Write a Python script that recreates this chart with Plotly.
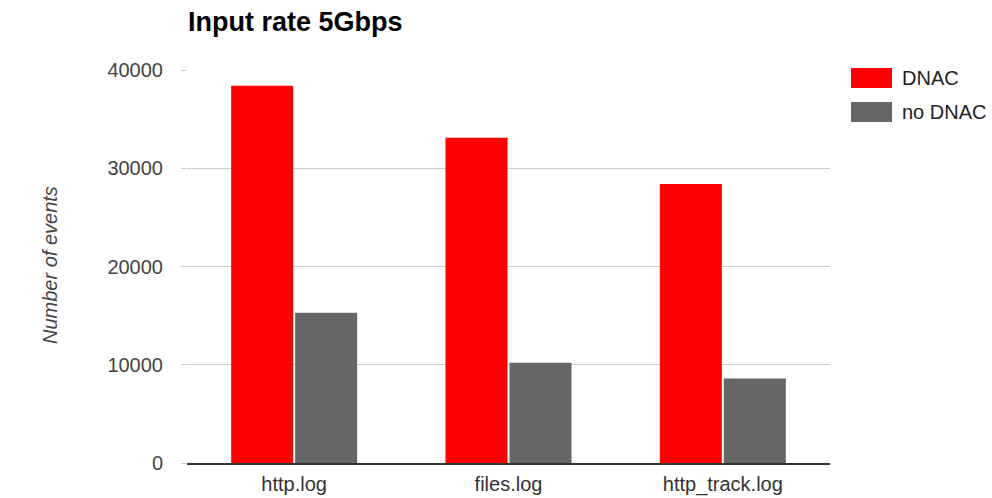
import plotly.graph_objects as go

# Data
categories = ["http.log", "files.log", "http_track.log"]
series_names = ["DNAC", "no DNAC"]
dnac_values = [38400, 33100, 28400]
no_dnac_values = [15300, 10200, 8600]
series_colors = ["#ff0000", "#666666"]
y_ticks = [0, 10000, 20000, 30000, 40000]

W, H = 992, 498
L, R, T, B = 187, 162, 70, 35
FONT = "Liberation Sans, Arial, sans-serif"

fig = go.Figure()
for name, vals, col in zip(series_names, [dnac_values, no_dnac_values], series_colors):
    fig.add_trace(go.Bar(x=categories, y=vals, name=name, marker_color=col,
                         marker_line_width=0, showlegend=False))

fig.update_layout(
    width=W, height=H,
    margin=dict(l=L, r=R, t=T, b=B, pad=0, autoexpand=False),
    paper_bgcolor="white", plot_bgcolor="white",
    barmode="group", bargap=0.403, bargroupgap=0.03,
    font=dict(family=FONT, size=20, color="#444444"),
    title=dict(text="<b>Input rate 5Gbps</b>", x=188 / W, xanchor="left",
               xref="container", y=1 - 22 / H, yanchor="middle", yref="container",
               font=dict(family=FONT, size=27, color="#000000")),
    xaxis=dict(showgrid=False, showline=True, linecolor="#333333", linewidth=1.5,
               automargin=False, ticks="", tickfont=dict(size=20, color="#333333"),
               ticklabelstandoff=2),
    yaxis=dict(range=[0, 40000], tickvals=y_ticks, ticktext=[str(v) for v in y_ticks],
               automargin=False, showgrid=True, gridcolor="#cccccc", gridwidth=1,
               zeroline=False, showline=False, ticks="outside", ticklen=5,
               tickcolor="#cccccc", tickfont=dict(size=20, color="#444444"),
               ticklabelstandoff=14),
)

# axis title
plot_w = W - L - R
plot_h = H - T - B
fig.add_annotation(text="<i>Number of events</i>", xref="paper", yref="paper",
                   x=(50 - L) / plot_w, y=(H - B - 265) / plot_h, xanchor="center",
                   yanchor="middle", textangle=-90, showarrow=False,
                   font=dict(family=FONT, size=20, color="#444444"))

# legend with wide swatches
for i, (name, col) in enumerate(zip(series_names, series_colors)):
    cy = 78 + i * 34
    x0 = (851 - L) / plot_w
    x1 = (892 - L) / plot_w
    y0 = (H - B - (cy + 10)) / plot_h
    y1 = (H - B - (cy - 10)) / plot_h
    fig.add_shape(type="rect", xref="paper", yref="paper", x0=x0, x1=x1, y0=y0, y1=y1,
                  fillcolor=col, line_width=0)
    fig.add_annotation(text=name, xref="paper", yref="paper", x=(900 - L) / plot_w,
                       y=(H - B - cy) / plot_h, xanchor="left", yanchor="middle",
                       showarrow=False, font=dict(family=FONT, size=20, color="#222222"))

fig.write_html("out.html")
